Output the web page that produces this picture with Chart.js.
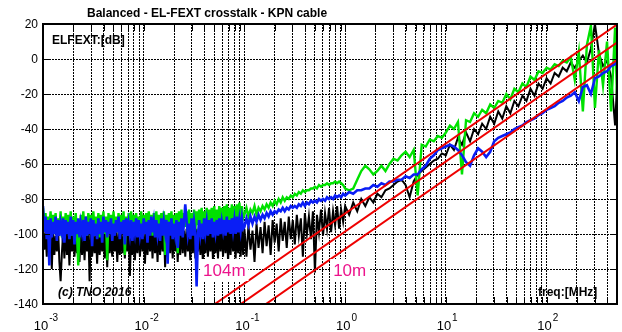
<!DOCTYPE html>
<html>
<head>
<meta charset="utf-8">
<title>Balanced - EL-FEXT crosstalk - KPN cable</title>
<script src="https://cdn.jsdelivr.net/npm/chart.js@4.4.0/dist/chart.umd.min.js"></script>
<style>
  html, body { margin: 0; padding: 0; background: #fff; }
  #wrap { width: 622px; height: 332px; }
</style>
</head>
<body>
<div id="wrap"><canvas id="fextChart" width="622" height="332"></canvas></div>
<script>
// Frequency points in MHz (shared by the three measured traces)
const freqMHz = [
  // 1 - 10 kHz
  1.000e-3, 1.029e-3, 1.059e-3, 1.090e-3, 1.122e-3, 1.155e-3, 1.189e-3, 1.223e-3, 1.259e-3, 1.296e-3,
  1.334e-3, 1.372e-3, 1.413e-3, 1.454e-3, 1.496e-3, 1.540e-3, 1.585e-3, 1.631e-3, 1.679e-3, 1.728e-3,
  1.778e-3, 1.830e-3, 1.884e-3, 1.939e-3, 1.995e-3, 2.054e-3, 2.113e-3, 2.175e-3, 2.239e-3, 2.304e-3,
  2.371e-3, 2.441e-3, 2.512e-3, 2.585e-3, 2.661e-3, 2.738e-3, 2.818e-3, 2.901e-3, 2.985e-3, 3.073e-3,
  3.162e-3, 3.255e-3, 3.350e-3, 3.447e-3, 3.548e-3, 3.652e-3, 3.758e-3, 3.868e-3, 3.981e-3, 4.097e-3,
  4.217e-3, 4.340e-3, 4.467e-3, 4.597e-3, 4.732e-3, 4.870e-3, 5.012e-3, 5.158e-3, 5.309e-3, 5.464e-3,
  5.623e-3, 5.788e-3, 5.957e-3, 6.131e-3, 6.310e-3, 6.494e-3, 6.683e-3, 6.879e-3, 7.079e-3, 7.286e-3,
  7.499e-3, 7.718e-3, 7.943e-3, 8.175e-3, 8.414e-3, 8.660e-3, 8.913e-3, 9.173e-3, 9.441e-3, 9.716e-3,
  // 10 - 100 kHz
  1.000e-2, 1.029e-2, 1.059e-2, 1.090e-2, 1.122e-2, 1.155e-2, 1.189e-2, 1.223e-2, 1.259e-2, 1.296e-2,
  1.334e-2, 1.372e-2, 1.413e-2, 1.454e-2, 1.496e-2, 1.540e-2, 1.585e-2, 1.631e-2, 1.679e-2, 1.728e-2,
  1.778e-2, 1.830e-2, 1.884e-2, 1.939e-2, 1.995e-2, 2.054e-2, 2.113e-2, 2.175e-2, 2.239e-2, 2.304e-2,
  2.371e-2, 2.441e-2, 2.512e-2, 2.585e-2, 2.661e-2, 2.738e-2, 2.818e-2, 2.901e-2, 2.985e-2, 3.073e-2,
  3.162e-2, 3.255e-2, 3.350e-2, 3.447e-2, 3.548e-2, 3.652e-2, 3.758e-2, 3.868e-2, 3.981e-2, 4.097e-2,
  4.217e-2, 4.340e-2, 4.467e-2, 4.597e-2, 4.732e-2, 4.870e-2, 5.012e-2, 5.158e-2, 5.309e-2, 5.464e-2,
  5.623e-2, 5.788e-2, 5.957e-2, 6.131e-2, 6.310e-2, 6.494e-2, 6.683e-2, 6.879e-2, 7.079e-2, 7.286e-2,
  7.499e-2, 7.718e-2, 7.943e-2, 8.175e-2, 8.414e-2, 8.660e-2, 8.913e-2, 9.173e-2, 9.441e-2, 9.716e-2,
  // 100 kHz - 1 MHz
  0.1000, 0.1047, 0.1096, 0.1148, 0.1202, 0.1259, 0.1318, 0.1380, 0.1445, 0.1514,
  0.1585, 0.1660, 0.1738, 0.1820, 0.1905, 0.1995, 0.2089, 0.2188, 0.2291, 0.2399,
  0.2512, 0.2630, 0.2754, 0.2884, 0.3020, 0.3162, 0.3311, 0.3467, 0.3631, 0.3802,
  0.3981, 0.4169, 0.4365, 0.4571, 0.4786, 0.5012, 0.5248, 0.5495, 0.5754, 0.6026,
  0.6310, 0.6607, 0.6918, 0.7244, 0.7586, 0.7943, 0.8318, 0.8710, 0.9120, 0.9550,
  // 1 - 500 MHz
  1.000, 1.096, 1.202, 1.318, 1.445, 1.585, 1.738, 1.905, 2.089, 2.291,
  2.512, 2.754, 3.020, 3.311, 3.631, 3.981, 4.365, 4.786, 5.248, 5.754,
  6.310, 6.918, 7.586, 8.318, 9.120,
  10.00, 10.96, 12.02, 13.18, 14.45, 15.85, 17.38, 19.05, 20.89, 22.91,
  25.12, 27.54, 30.20, 33.11, 36.31, 39.81, 43.65, 47.86, 52.48, 57.54,
  63.10, 69.18, 75.86, 83.18, 91.20,
  100.0, 109.6, 120.2, 131.8, 144.5, 158.5, 173.8, 190.5, 208.9, 229.1,
  251.2, 275.4, 302.0, 331.1, 363.1, 398.1, 436.5, 478.6, 500.0
];

// ELFEXT traces in dB
const greenDb = [
  -85, -95, -88, -99, -90, -97, -87, -101, -89, -98,
  -88, -100, -91, -97, -87, -102, -90, -98, -88, -99,
  -89, -97, -87, -101, -90, -98, -88, -100, -118, -97,
  -89, -99, -87, -98, -90, -101, -88, -97, -89, -100,
  -87, -98, -90, -99, -88, -102, -89, -97, -87, -100,
  -90, -115, -88, -98, -89, -101, -87, -97, -90, -99,
  -88, -100, -89, -98, -87, -112, -90, -97, -88, -99,
  -87, -101, -89, -98, -88, -100, -90, -97, -87, -99,
  -89, -98, -88, -100, -87, -97, -89, -101, -88, -98,
  -87, -99, -89, -98, -88, -100, -87, -112, -89, -97,
  -88, -99, -87, -98, -89, -100, -88, -111, -87, -97,
  -86, -98, -88, -96, -87, -99, -86, -97, -88, -96,
  -86, -98, -87, -95, -86, -97, -85, -96, -87, -95,
  -85, -97, -86, -94, -85, -96, -84, -95, -86, -94,
  -84, -96, -85, -93, -84, -95, -83, -94, -85, -93,
  -83, -94, -84, -92, -83, -93, -82, -92, -84, -91,
  -89, -85, -90, -86, -88, -84, -89, -85, -87, -84,
  -86, -83, -85, -82, -84, -81, -83, -80, -82, -79,
  -81, -79, -80, -78, -79, -77, -78, -76, -77, -75,
  -76, -75, -75, -74, -74, -73, -74, -72, -73, -72,
  -72, -71, -72, -71, -71, -70, -71, -70, -71, -72,
  -74, -75, -74, -69, -64, -61, -63, -66, -64, -61,
  -64, -60, -57, -58, -55, -53, -56, -52, -78, -49,
  -50, -46, -47, -44, -45,
  -42, -38, -40, -36, -66, -35, -36, -31, -33, -29,
  -31, -26, -28, -24, -25, -20, -23, -17, -19, -14,
  -16, -10, -12, -7, -8, -5, -6, -3, -4, -1,
  -2, 1, -12, 4, -30, 8, 19, -28, 5, -15,
  10, -30, 18, -22
];

const blueDb = [
  -84, -99, -90, -103, -92, -118, -91, -102, -93, -100,
  -90, -104, -92, -101, -94, -99, -91, -105, -92, -100,
  -93, -103, -90, -101, -92, -106, -93, -100, -91, -102,
  -94, -99, -92, -104, -90, -101, -93, -100, -91, -107,
  -92, -101, -94, -103, -91, -100, -93, -105, -90, -99,
  -92, -102, -93, -100, -91, -104, -94, -101, -92, -99,
  -90, -103, -93, -100, -92, -106, -91, -101, -94, -100,
  -92, -104, -93, -99, -91, -102, -92, -100, -94, -103,
  -91, -100, -93, -105, -92, -101, -90, -99, -93, -102,
  -92, -100, -94, -104, -91, -101, -93, -99, -92, -117,
  -93, -101, -91, -103, -94, -100, -92, -108, -93, -101,
  -91, -102, -93, -83, -92, -100, -94, -103, -91, -101,
  -93, -99, -130, -102, -92, -100, -94, -103, -91, -99,
  -93, -101, -92, -100, -91, -102, -93, -99, -92, -101,
  -91, -100, -93, -98, -92, -101, -90, -99, -92, -100,
  -91, -98, -92, -100, -90, -99, -92, -98, -91, -97,
  -96, -91, -95, -90, -94, -90, -93, -89, -92, -89,
  -91, -88, -90, -87, -89, -87, -88, -86, -87, -85,
  -87, -85, -86, -84, -85, -84, -85, -83, -84, -82,
  -84, -82, -83, -81, -82, -81, -82, -80, -81, -80,
  -81, -79, -80, -79, -80, -78, -79, -78, -79, -77,
  -78, -76, -77, -75, -75, -74, -74, -72, -73, -71,
  -72, -70, -70, -69, -69, -67, -68, -66, -66, -63,
  -61, -57, -55, -52, -51,
  -50, -49, -50, -52, -55, -59, -61, -55, -51, -53,
  -56, -53, -47, -45, -44, -43, -42, -40, -39, -38,
  -36, -35, -34, -32, -31, -29, -28, -27, -25, -24,
  -22, -21, -19, -24, -16, -15, -20, -11, -10, -8,
  -7, -4, -3, -2
];

const blackDb = [
  -97, -109, -99, -113, -96, -111, -100, -120, -98, -112,
  -101, -110, -97, -116, -127, -111, -99, -114, -96, -112,
  -100, -118, -98, -110, -97, -113, -101, -111, -99, -116,
  -97, -112, -100, -115, -98, -110, -96, -127, -99, -113,
  -101, -111, -98, -117, -97, -112, -100, -110, -99, -114,
  -96, -119, -98, -111, -100, -113, -97, -110, -99, -116,
  -98, -112, -101, -111, -97, -114, -99, -110, -98, -124,
  -100, -112, -97, -115, -99, -111, -98, -113, -96, -110,
  -99, -117, -97, -112, -100, -110, -98, -114, -97, -111,
  -99, -116, -96, -112, -98, -110, -97, -119, -99, -113,
  -98, -111, -96, -114, -99, -110, -97, -116, -98, -112,
  -96, -111, -98, -113, -97, -110, -99, -115, -96, -111,
  -98, -114, -97, -110, -99, -112, -96, -117, -98, -111,
  -97, -113, -99, -110, -96, -115, -98, -111, -97, -114,
  -96, -110, -98, -113, -97, -111, -95, -116, -97, -112,
  -96, -110, -95, -114, -97, -111, -95, -113, -96, -112,
  -97, -113, -95, -109, -98, -116, -94, -108, -96, -111,
  -93, -107, -95, -112, -92, -105, -94, -110, -91, -104,
  -93, -108, -90, -103, -92, -106, -89, -101, -91, -113,
  -88, -100, -90, -103, -87, -122, -89, -99, -86, -101,
  -88, -97, -85, -99, -87, -95, -84, -97, -86, -93,
  -84, -89, -82, -87, -80, -84, -79, -82, -77, -79,
  -75, -74, -72, -70, -69, -72, -79, -70, -66, -64,
  -62, -60, -58, -57, -54,
  -55, -49, -52, -45, -49, -42, -47, -40, -43, -37,
  -40, -33, -37, -30, -34, -27, -31, -24, -27, -21,
  -24, -17, -21, -14, -17, -11, -14, -8, -10, -5,
  -7, -2, -5, -1, 2, -2, 6, 20, 3, -4,
  -1, -10, -38, -15
];

// Straight reference lines (40 dB/decade), end points only
const refFreq = [0.05, 500];
const ref104mDb = [-140.3, 19.7];
const refMidDb = [-150.6, 9.4];
const ref10mDb = [-160.6, -0.6];

// Axis ticks
const yTickValues = [20, 0, -20, -40, -60, -80, -100, -120, -140];
const xTickExps = [-3, -2, -1, 0, 1, 2];
const gridFreqs = [0.001, 0.01, 0.1, 1, 10, 100]
  .flatMap(d => [1, 2, 3, 4, 5, 6, 7, 8, 9].map(m => +(m * d).toPrecision(3)))
  .filter(f => f <= 500);

const FONT = "'Liberation Sans', Arial, Helvetica, sans-serif";

function toPoints(xs, ys) {
  return xs.map((x, i) => ({ x: x, y: ys[i] }));
}

function trace(label, values, color, width) {
  return {
    label: label,
    data: toPoints(freqMHz, values),
    borderColor: color,
    borderWidth: width,
    pointRadius: 0,
    tension: 0
  };
}

function refLine(label, values) {
  return {
    label: label,
    data: toPoints(refFreq, values),
    borderColor: '#ee0000',
    borderWidth: 2,
    pointRadius: 0,
    tension: 0
  };
}

// Frame, inward ticks, tick labels and annotations
const overlay = {
  id: 'overlay',
  afterDatasetsDraw(chart) {
    const ctx = chart.ctx;
    const a = chart.chartArea;
    const x = chart.scales.x;
    const y = chart.scales.y;
    ctx.save();

    ctx.strokeStyle = '#000';
    ctx.lineWidth = 1;
    ctx.beginPath();
    gridFreqs.forEach(f => {
      const px = Math.round(x.getPixelForValue(f)) + 0.5;
      ctx.moveTo(px, a.bottom); ctx.lineTo(px, a.bottom - 7);
      ctx.moveTo(px, a.top); ctx.lineTo(px, a.top + 7);
    });
    yTickValues.forEach(v => {
      const py = Math.round(y.getPixelForValue(v)) + 0.5;
      ctx.moveTo(a.left, py); ctx.lineTo(a.left + 7, py);
      ctx.moveTo(a.right, py); ctx.lineTo(a.right - 7, py);
    });
    ctx.stroke();

    ctx.lineWidth = 2;
    ctx.strokeRect(a.left, a.top, a.right - a.left, a.bottom - a.top);

    // cable length labels on white boxes
    ctx.font = '17px ' + FONT;
    ctx.textBaseline = 'alphabetic';
    [['104m', 0.0388], ['10m', 0.76]].forEach(([txt, f]) => {
      const px = x.getPixelForValue(f);
      const py = y.getPixelForValue(-124);
      const w = ctx.measureText(txt).width;
      ctx.fillStyle = '#fff';
      ctx.fillRect(px - 3, py - 17, w + 6, 22);
      ctx.fillStyle = 'rgb(236,20,140)';
      ctx.fillText(txt, px, py);
    });

    ctx.fillStyle = '#000';
    ctx.font = 'bold 12px ' + FONT;
    ctx.textAlign = 'left';
    ctx.fillText('ELFEXT:[dB]', a.left + 9, a.top + 20);
    ctx.fillText('freq:[MHz]', a.right - 79, a.bottom - 8);
    ctx.font = 'italic bold 12px ' + FONT;
    ctx.fillText('(c) TNO 2016', a.left + 15, a.bottom - 8);

    // title
    ctx.font = 'bold 12px ' + FONT;
    ctx.fillText('Balanced - EL-FEXT crosstalk - KPN cable', 87, 17);

    // y tick labels
    ctx.font = '12px ' + FONT;
    ctx.textAlign = 'right';
    ctx.textBaseline = 'middle';
    yTickValues.forEach(v => {
      ctx.fillText(String(v), a.left - 5, y.getPixelForValue(v) + 1);
    });

    // x tick labels as powers of ten
    ctx.textAlign = 'left';
    ctx.textBaseline = 'alphabetic';
    xTickExps.forEach(e => {
      const px = x.getPixelForValue(Math.pow(10, e));
      ctx.font = '13px ' + FONT;
      const w = ctx.measureText('10').width;
      const left = px - w / 2 - 2;
      ctx.fillText('10', left, a.bottom + 26);
      ctx.font = '10px ' + FONT;
      ctx.fillText(String(e), left + w + 1, a.bottom + 17);
    });

    ctx.restore();
  }
};

function initFextChart() {
  const ctx = document.getElementById('fextChart').getContext('2d');
  const fextChart = new Chart(ctx, {
    type: 'line',
    data: {
      datasets: [
        refLine('104m', ref104mDb),
        refLine('mid', refMidDb),
        refLine('10m', ref10mDb),
        trace('blue', blueDb, 'rgb(10,30,245)', 2.6),
        trace('green', greenDb, 'rgb(0,225,0)', 2.4),
        trace('black', blackDb, '#000', 2)
      ]
    },
    options: {
      responsive: false,
      animation: false,
      devicePixelRatio: 1,
      layout: { padding: { left: 43, top: 24, right: 5, bottom: 28 } },
      plugins: { legend: { display: false }, tooltip: { enabled: false }, title: { display: false } },
      scales: {
        x: {
          type: 'logarithmic',
          min: 0.001,
          max: 500,
          afterBuildTicks: axis => { axis.ticks = gridFreqs.map(v => ({ value: v })); },
          afterFit: axis => { axis.height = 0; },
          ticks: { display: false },
          grid: { color: '#000', lineWidth: 1, drawTicks: false },
          border: { display: false, dash: [2, 1] }
        },
        y: {
          type: 'linear',
          min: -140,
          max: 20,
          afterBuildTicks: axis => { axis.ticks = yTickValues.map(v => ({ value: v })); },
          afterFit: axis => { axis.width = 0; },
          ticks: { display: false },
          grid: { color: '#000', lineWidth: 1, drawTicks: false },
          border: { display: false, dash: [2, 1] }
        }
      }
    },
    plugins: [overlay]
  });
}

window.onload = function() {
  initFextChart();
};
</script>
</body>
</html>
